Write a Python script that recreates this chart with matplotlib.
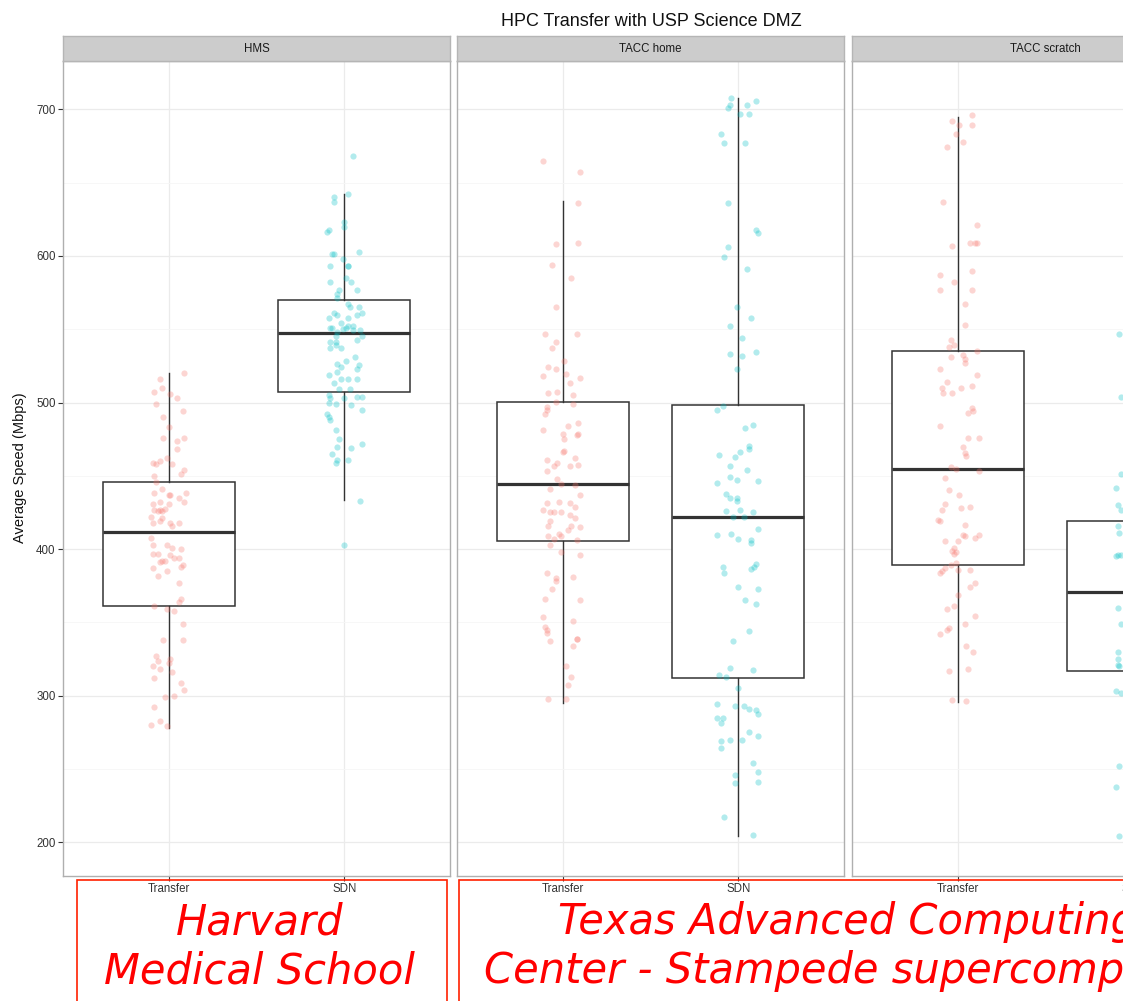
import matplotlib
matplotlib.use('Agg')
import matplotlib.pyplot as plt
from matplotlib.patches import Rectangle

plt.rcParams['font.family'] = 'Liberation Sans'

# ---- data ----
facets = ['HMS', 'TACC home', 'TACC scratch']
methods = ['Transfer', 'SDN']

# box stats per facet: [Transfer, SDN]
whisker_low = [[278, 433.5], [295, 204], [296, 202]]
quart_1 = [[361.2, 507.4], [405.6, 312], [389, 317]]
medians = [[411.7, 547.7], [444.5, 422], [455, 371]]
quart_3 = [[446, 570.2], [500.5, 498], [535, 419]]
whisker_high = [[520, 642], [637.8, 708], [695, 548]]

# jittered runs (Mbps) and their horizontal jitter (category units)
hms_transfer_speed = [520, 516, 510, 507, 506, 503, 499, 494, 490, 483,
                      476, 474, 476, 468, 462, 460, 459, 458, 458, 454,
                      451, 450, 446, 441, 438.5, 438, 437, 437, 435, 432,
                      431, 431, 432, 427, 427, 427.5, 426, 426, 422, 421,
                      419, 418, 418, 416, 418, 407.5, 403, 402.5, 401, 400,
                      397, 397, 396, 394, 394, 392, 392, 391, 389, 388,
                      387, 385, 382, 377, 364, 366, 361.5, 359, 358, 349,
                      338, 338, 327, 325, 324, 322, 320, 318, 316, 312,
                      308.5, 304, 300, 299, 292, 282.5, 280, 279]
hms_transfer_jitter = [0.09, -0.05, -0.04, -0.08, 0.01, 0.05, -0.07, 0.08, -0.03, 0.00,
                       -0.03, 0.05, 0.09, 0.05, -0.01, -0.05, -0.09, -0.07, 0.02, 0.09,
                       0.07, -0.08, -0.07, -0.04, 0.10, -0.08, 0.00, 0.01, 0.06, -0.05,
                       -0.09, 0.00, 0.09, -0.08, -0.05, -0.02, -0.06, -0.04, -0.10, -0.04,
                       -0.05, -0.09, 0.01, 0.02, 0.06, -0.10, -0.09, -0.01, 0.02, 0.07,
                       -0.09, -0.06, 0.01, 0.03, 0.06, -0.04, -0.02, -0.05, 0.08, 0.07,
                       -0.09, -0.01, -0.06, 0.06, 0.06, 0.07, -0.08, -0.01, 0.03, 0.08,
                       -0.03, 0.08, -0.07, 0.01, -0.06, 0.00, -0.09, -0.05, 0.02, -0.08,
                       0.07, 0.09, 0.03, -0.02, -0.08, -0.05, -0.10, -0.01]

hms_sdn_speed = [668, 642, 640, 636.5, 623.5, 620, 618, 616.5, 603, 601,
                 601, 598, 593, 593, 593, 585, 582, 582, 577, 577,
                 574, 571.5, 567, 565.5, 565.5, 561, 558, 559.5, 558, 559.5,
                 561, 554, 551, 551, 551, 550.5, 552, 552, 549.5, 549.5,
                 548, 545.5, 545.5, 542.7, 541.5, 541.5, 537.5, 539, 537.5, 531,
                 528, 526, 524.5, 525.5, 523, 521, 518.5, 516, 516, 516,
                 513.5, 509, 509, 503, 505, 503, 503.5, 503.5, 500, 499,
                 498, 495, 492, 490, 488, 481.5, 475, 470, 469, 472,
                 465, 460.5, 459, 461, 433, 403]
hms_sdn_jitter = [0.05, 0.02, -0.06, -0.06, 0.00, 0.00, -0.09, -0.10, 0.08, -0.07,
                  -0.06, -0.01, -0.08, 0.02, 0.02, 0.01, -0.08, 0.04, 0.07, -0.03,
                  -0.04, -0.04, 0.02, 0.03, 0.08, -0.06, -0.09, -0.04, 0.02, 0.07,
                  0.10, -0.02, -0.08, -0.07, 0.01, -0.01, 0.02, 0.05, 0.05, 0.09,
                  -0.04, -0.05, 0.10, 0.07, -0.08, -0.05, -0.08, -0.05, -0.02, 0.06,
                  0.01, -0.04, -0.02, 0.08, 0.07, -0.04, -0.09, -0.02, 0.02, 0.07,
                  -0.06, -0.03, 0.03, 0.00, -0.09, -0.08, 0.07, 0.10, -0.09, -0.05,
                  0.04, 0.10, -0.10, -0.09, -0.08, -0.05, -0.03, -0.04, 0.04, 0.10,
                  -0.07, -0.04, -0.05, 0.02, 0.09, 0.00]

home_transfer_speed = [665, 657, 636, 609, 608, 594, 585, 565, 547, 547,
                       541, 537, 528, 524.5, 523, 518, 519.5, 517, 513, 506.5,
                       507.5, 505, 500.5, 499, 497, 495, 492.5, 484, 486, 481,
                       478.5, 475, 478, 478.5, 466, 467, 461, 462, 459, 457,
                       457, 457.5, 453, 448, 444.5, 444, 441, 437, 431.5, 432,
                       431.5, 429, 427, 425.5, 425, 425.5, 423.5, 421.5, 419, 416,
                       416, 415, 413, 409, 410, 409, 407, 406, 403, 398,
                       396, 383.5, 380.5, 381, 378, 372.5, 366, 365.5, 354, 351,
                       347, 345, 342.5, 339, 338.5, 337.5, 334, 320, 312.5, 307.5,
                       298, 298]
home_transfer_jitter = [-0.11, 0.10, 0.09, 0.09, -0.04, -0.06, 0.05, -0.04, -0.10, 0.08,
                        -0.04, -0.06, 0.01, -0.08, -0.04, -0.11, 0.02, 0.10, 0.04, -0.08,
                        -0.03, 0.06, -0.04, 0.06, -0.09, -0.09, -0.10, 0.03, 0.09, -0.11,
                        0.00, 0.01, 0.08, 0.09, 0.00, 0.01, -0.09, 0.07, -0.03, -0.05,
                        0.04, 0.09, -0.09, -0.03, -0.01, 0.07, -0.07, 0.10, -0.09, -0.02,
                        0.04, 0.07, -0.11, -0.07, -0.05, -0.01, 0.04, 0.07, -0.07, -0.08,
                        0.05, 0.10, 0.03, -0.08, -0.02, -0.01, -0.05, 0.08, -0.07, -0.01,
                        0.10, -0.09, -0.04, 0.06, -0.04, -0.06, -0.10, 0.10, -0.11, 0.06,
                        -0.10, -0.09, -0.09, 0.08, 0.08, -0.07, 0.06, 0.02, 0.05, 0.03,
                        -0.08, 0.02]

home_sdn_speed = [708, 706, 703, 703, 701, 697, 697, 683, 677, 677,
                  636, 618, 616, 606, 599, 591, 565, 558, 552, 544,
                  533, 532, 534.5, 523, 497.6, 494.6, 485, 482.7, 470.5, 468.5,
                  466, 463, 464, 457, 453.7, 449, 447, 446.4, 445, 437.5,
                  435, 435, 432.6, 426, 427, 425, 422, 422, 413.7, 409.5,
                  410.4, 407, 406.5, 404, 390, 387.7, 386.4, 387.7, 383.7, 374,
                  372.5, 365.6, 362.6, 344.4, 337, 318.7, 317.4, 313.8, 313, 305.5,
                  294.6, 293, 293, 290.7, 290, 287.4, 284.7, 285, 281.4, 275,
                  272.5, 270, 270, 269, 264, 254.4, 247.8, 246, 240.5, 241,
                  217.4, 205]
home_sdn_jitter = [-0.04, 0.10, -0.05, 0.05, -0.06, 0.01, 0.06, -0.10, -0.08, 0.04,
                   -0.06, 0.10, 0.11, -0.06, -0.08, 0.05, -0.01, 0.07, -0.05, 0.02,
                   -0.05, 0.02, 0.10, -0.01, -0.09, -0.12, 0.08, 0.04, 0.06, 0.06,
                   0.01, -0.02, -0.11, -0.05, 0.05, -0.05, -0.01, 0.11, -0.12, -0.07,
                   -0.05, -0.01, -0.01, -0.07, 0.01, 0.08, -0.03, 0.03, 0.11, -0.12,
                   -0.04, 0.00, 0.07, 0.07, 0.10, 0.09, 0.07, -0.09, -0.08, 0.00,
                   0.11, 0.04, 0.10, 0.06, -0.03, -0.05, 0.08, -0.11, -0.07, 0.00,
                   -0.12, -0.02, 0.03, 0.06, 0.10, 0.11, -0.12, -0.09, -0.10, 0.06,
                   0.11, 0.02, -0.05, -0.10, -0.10, 0.08, 0.11, -0.02, -0.02, 0.11,
                   -0.08, 0.08]

scratch_transfer_speed = [696, 692, 689, 689, 683, 678, 674.5, 637, 621, 608.5,
                          608.5, 608.5, 607, 590, 587, 582, 576.6, 576.6, 567, 553,
                          543, 538, 539, 532.7, 530, 535, 531, 527, 522.6, 519,
                          514, 510, 506.6, 506.6, 510, 511.4, 496, 494, 493, 484,
                          476, 476, 469.4, 465.4, 463.5, 456, 455, 453.4, 448.3, 440.4,
                          436.6, 430.8, 427, 428, 429, 419.6, 419, 416.4, 409.8, 409,
                          409.5, 407.7, 405.8, 405.8, 401, 399, 398.3, 396.5, 389, 390.4,
                          387, 385, 383.7, 385.8, 385.8, 377, 374.4, 368.5, 361, 359,
                          354.5, 349, 346.5, 345, 342, 333.7, 330, 318.5, 317, 297,
                          296.7]
scratch_transfer_jitter = [0.08, -0.03, 0.01, 0.08, -0.01, 0.03, -0.06, -0.08, 0.11, 0.07,
                           0.10, 0.11, -0.03, 0.08, -0.10, -0.02, -0.10, 0.08, 0.04, 0.04,
                           -0.04, -0.05, -0.02, 0.03, 0.04, 0.11, -0.04, 0.04, -0.10, 0.11,
                           -0.06, -0.09, -0.08, -0.03, 0.02, 0.08, 0.08, 0.09, 0.06, -0.10,
                           0.06, 0.12, 0.03, 0.04, 0.05, -0.04, -0.01, 0.12, -0.07, -0.05,
                           0.01, -0.07, -0.09, 0.02, 0.07, -0.11, -0.10, 0.04, 0.03, 0.04,
                           0.12, 0.10, -0.07, 0.00, -0.02, -0.03, -0.01, -0.02, -0.04, -0.01,
                           -0.07, -0.09, -0.10, 0.00, 0.07, 0.10, 0.07, 0.00, -0.02, -0.06,
                           0.10, 0.04, -0.05, -0.06, -0.10, 0.05, 0.09, 0.06, -0.05, -0.03,
                           0.05]

# only the left edge of this group is inside the picture
scratch_sdn_speed = [547, 504, 451, 442, 430, 427, 416, 411, 395, 396, 396,
                     360, 349, 329.5, 325, 321, 320, 303.4, 302, 252, 238, 204]
scratch_sdn_jitter = [-0.08, -0.07, -0.07, -0.10, -0.09, -0.07, -0.09, -0.08, -0.10, -0.09, -0.07,
                      -0.09, -0.07, -0.09, -0.09, -0.09, -0.08, -0.10, -0.07, -0.08, -0.10, -0.08]

runs = [[(hms_transfer_speed, hms_transfer_jitter), (hms_sdn_speed, hms_sdn_jitter)],
        [(home_transfer_speed, home_transfer_jitter), (home_sdn_speed, home_sdn_jitter)],
        [(scratch_transfer_speed, scratch_transfer_jitter), (scratch_sdn_speed, scratch_sdn_jitter)]]

y_ticks = [200, 300, 400, 500, 600, 700]
y_minor = [250, 350, 450, 550, 650]

# ---- layout (pixels) ----
W, H = 1123, 1001
panel_left = [63, 457, 852]
panel_w = 387
panel_top = 61
panel_bottom = 876
strip_h = 25
point_colors = ['#F8766D', '#00BFC4']
box_line = '#333333'

fig = plt.figure(figsize=(W / 100, H / 100), dpi=100)

for i, facet in enumerate(facets):
    ax = fig.add_axes([panel_left[i] / W, (H - panel_bottom) / H,
                       panel_w / W, (panel_bottom - panel_top) / H])
    stats = []
    for j in range(2):
        stats.append({'whislo': whisker_low[i][j], 'q1': quart_1[i][j],
                      'med': medians[i][j], 'q3': quart_3[i][j],
                      'whishi': whisker_high[i][j]})
    ax.bxp(stats, positions=[1, 2], widths=0.75, showcaps=False, showfliers=False,
           patch_artist=True,
           boxprops={'facecolor': 'white', 'edgecolor': box_line, 'linewidth': 1.1},
           medianprops={'color': box_line, 'linewidth': 2.3},
           whiskerprops={'color': box_line, 'linewidth': 1.0})
    for j in range(2):
        speed, jit = runs[i][j]
        xs = [j + 1 + d for d in jit]
        ax.scatter(xs, speed, s=20, color=point_colors[j], alpha=0.3,
                   linewidths=0, zorder=4)

    ax.set_xlim(0.4, 2.6)
    ax.set_ylim(177, 733)
    ax.set_xticks([1, 2])
    ax.set_xticklabels(methods)
    ax.set_yticks(y_ticks)
    ax.set_yticks(y_minor, minor=True)
    ax.grid(which='major', color='#EBEBEB', linewidth=0.9)
    ax.grid(which='minor', axis='y', color='#F6F6F6', linewidth=0.6)
    ax.set_axisbelow(True)
    for s in ax.spines.values():
        s.set_color('#AFAFAF')
        s.set_linewidth(1.0)
    ax.tick_params(axis='both', which='major', length=3.4, width=0.8, color='#333333',
                   labelsize=8.3, labelcolor='#333333', pad=2)
    ax.tick_params(axis='y', which='minor', length=0)
    if i > 0:
        ax.tick_params(axis='y', which='both', left=False, labelleft=False)

    # facet strip
    sx = fig.add_axes([panel_left[i] / W, (H - panel_top) / H, panel_w / W, strip_h / H])
    sx.set_facecolor('#CCCCCC')
    sx.set_xticks([])
    sx.set_yticks([])
    for s in sx.spines.values():
        s.set_color('#B5B5B5')
        s.set_linewidth(1.0)
    sx.text(0.5, 0.5, facet, ha='center', va='center', fontsize=8.3, color='#1A1A1A',
            transform=sx.transAxes)

fig.text(651 / W, 1 - 21 / H, 'HPC Transfer with USP Science DMZ', ha='center', va='center',
         fontsize=13, color='#111111')
fig.text(20 / W, 1 - 468 / H, 'Average Speed (Mbps)', rotation=90, ha='center', va='center',
         fontsize=10.5, color='#111111')

# red annotation boxes under the facets
fig.patches.append(Rectangle((77 / W, (H - 1012) / H), 370 / W, 132 / H, transform=fig.transFigure,
                             fill=False, edgecolor='#FF2000', linewidth=1.2, zorder=5))
fig.patches.append(Rectangle((459 / W, (H - 1012) / H), 778 / W, 132 / H, transform=fig.transFigure,
                             fill=False, edgecolor='#FF2000', linewidth=1.2, zorder=5))
# baseline of the last line sits at y = 983 px
fig.text(260 / W, 1 - 983 / H, 'Harvard\nMedical School', ha='center', va='baseline',
         multialignment='center', fontsize=30, style='italic', family='DejaVu Sans',
         color='#FF0000', linespacing=1.2)
fig.text(847 / W, 1 - 983 / H, 'Texas Advanced Computing\nCenter - Stampede supercomputer',
         ha='center', va='baseline', multialignment='center', fontsize=30, style='italic',
         family='DejaVu Sans', color='#FF0000', linespacing=1.2)

fig.savefig('out.png', dpi=100)
